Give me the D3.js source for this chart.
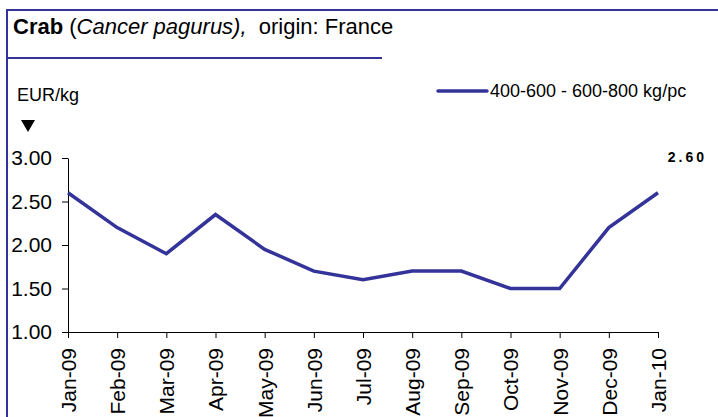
<!DOCTYPE html>
<html>
<head>
<meta charset="utf-8">
<script src="https://cdn.jsdelivr.net/npm/d3@7"></script>
<style>
  body { margin: 0; background: #fff; }
  svg { display: block; font-family: "Liberation Sans", Arial, sans-serif; }
</style>
</head>
<body>
<script>
var months = ["Jan-09", "Feb-09", "Mar-09", "Apr-09", "May-09", "Jun-09", "Jul-09",
  "Aug-09", "Sep-09", "Oct-09", "Nov-09", "Dec-09", "Jan-10"];
var prices = [2.60, 2.20, 1.90, 2.35, 1.95, 1.70, 1.60, 1.70, 1.70, 1.50, 1.50, 2.20, 2.60];
var yTicks = [1.00, 1.50, 2.00, 2.50, 3.00];
var seriesName = "400-600 - 600-800 kg/pc";

var w = 718;
var h = 417;
var blue = "#333399";

var svg = d3.select("body")
  .append("svg")
  .attr("width", w)
  .attr("height", h);

// frame and title rule
svg.append("line")
  .attr("x1", 7).attr("x2", w).attr("y1", 10).attr("y2", 10)
  .attr("stroke", blue).attr("stroke-width", 2);
svg.append("line")
  .attr("x1", 7).attr("x2", 7).attr("y1", 9).attr("y2", h)
  .attr("stroke", blue).attr("stroke-width", 2);
svg.append("line")
  .attr("x1", 7).attr("x2", 382).attr("y1", 58).attr("y2", 58)
  .attr("stroke", blue).attr("stroke-width", 2);

var title = svg.append("text")
  .attr("x", 13)
  .attr("y", 34)
  .attr("font-size", "22px")
  .attr("fill", "#000");
title.append("tspan").attr("font-weight", "bold").text("Crab");
title.append("tspan").text(" (");
title.append("tspan").attr("font-style", "italic").text("Cancer pagurus),");
title.append("tspan").attr("xml:space", "preserve").text("  origin: France");

svg.append("text")
  .attr("x", 17)
  .attr("y", 101)
  .attr("font-size", "18px")
  .text("EUR/kg");

svg.append("path")
  .attr("d", "M21,120 L35,120 L28,132 Z")
  .attr("fill", "#000");

var x = d3.scalePoint()
  .domain(months)
  .range([68, 658]);

var y = d3.scaleLinear()
  .domain([1, 3])
  .range([332, 158]);

var yAxis = svg.append("g")
  .attr("transform", "translate(68,0)")
  .call(d3.axisLeft(y).tickValues(yTicks).tickFormat(d3.format(".2f")).tickSize(6).tickSizeOuter(0));
yAxis.selectAll("text")
  .attr("font-size", "21px")
  .attr("fill", "#000")
  .attr("x", -16)
  .attr("font-family", "Liberation Sans, Arial, sans-serif");

var xAxis = svg.append("g")
  .attr("transform", "translate(0,332)")
  .call(d3.axisBottom(x).tickSize(6).tickSizeOuter(0));
xAxis.selectAll("text")
  .attr("font-size", "21px")
  .attr("fill", "#000")
  .attr("font-family", "Liberation Sans, Arial, sans-serif")
  .attr("text-anchor", "end")
  .attr("transform", "rotate(-90)")
  .attr("x", -16)
  .attr("y", 0)
  .attr("dy", "0.35em");

svg.selectAll(".domain, .tick line").attr("stroke", "#000");

var line = d3.line()
  .x(function(d, i) { return x(months[i]); })
  .y(function(d) { return y(d); });

svg.append("path")
  .datum(prices)
  .attr("d", line)
  .attr("fill", "none")
  .attr("stroke", blue)
  .attr("stroke-width", 3.5)
  .attr("stroke-linejoin", "miter");

// last value label
svg.append("text")
  .attr("x", 707)
  .attr("y", 162)
  .attr("text-anchor", "end")
  .attr("font-size", "14px")
  .attr("font-weight", "bold")
  .attr("letter-spacing", "3px")
  .text(d3.format(".2f")(prices[prices.length - 1]));

// legend
svg.append("line")
  .attr("x1", 438).attr("x2", 487).attr("y1", 91).attr("y2", 91)
  .attr("stroke", blue).attr("stroke-width", 3.5).attr("stroke-linecap", "round");
svg.append("text")
  .attr("x", 490)
  .attr("y", 97)
  .attr("font-size", "18px")
  .text(seriesName);
</script>
</body>
</html>
